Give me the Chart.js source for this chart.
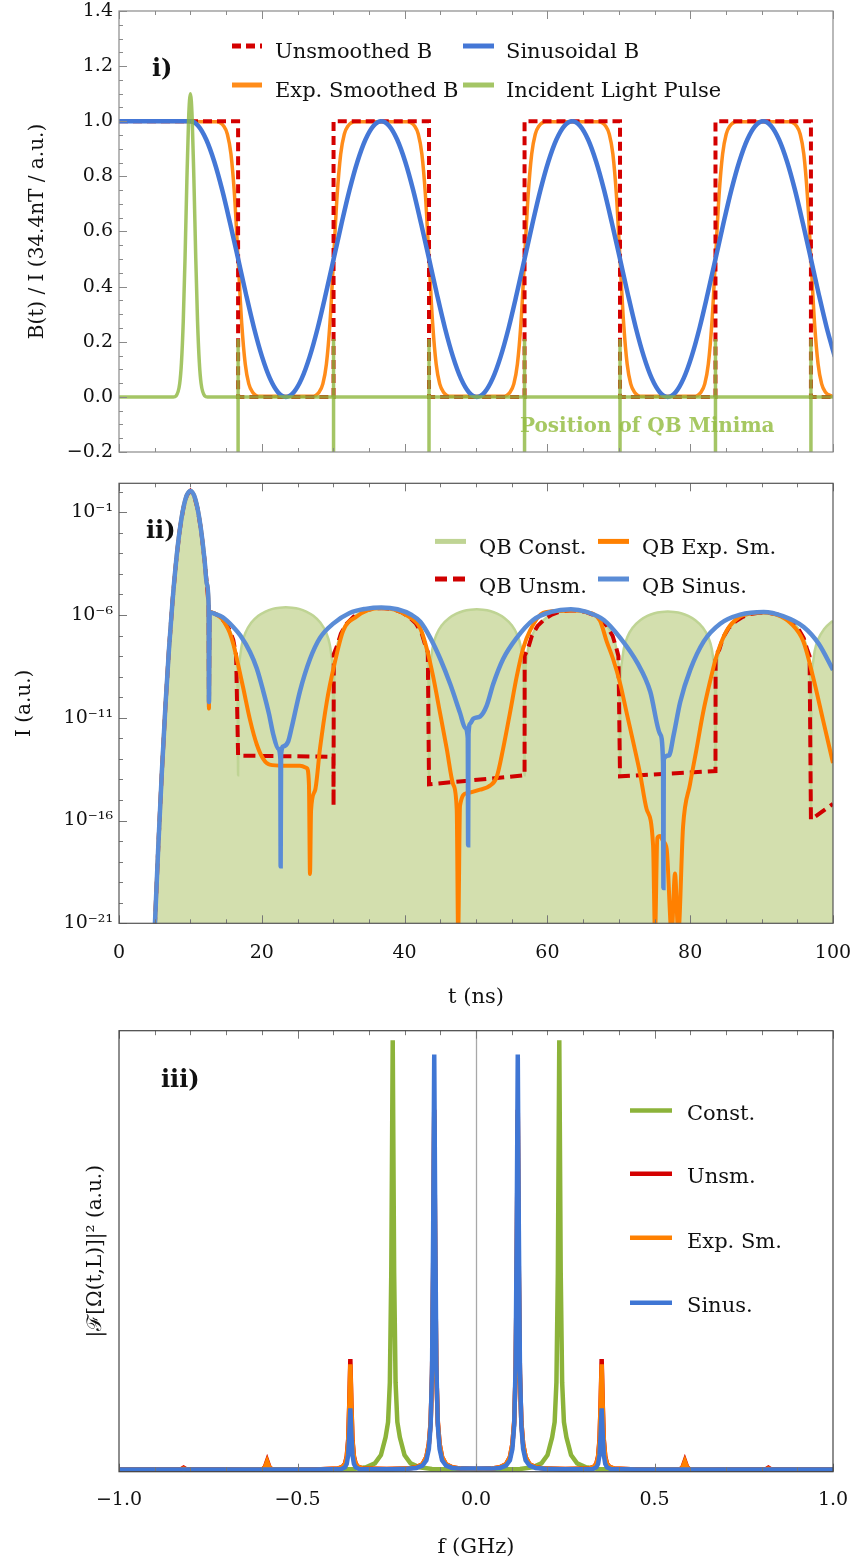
<!DOCTYPE html>
<html><head><meta charset="utf-8">
<script src="https://cdn.jsdelivr.net/npm/chart.js@4.4.1/dist/chart.umd.min.js"></script>
<style>
html,body{margin:0;padding:0;background:#fff;}
body{width:854px;height:1562px;position:relative;overflow:hidden;}
canvas{position:absolute;left:0;}
</style></head><body>
<canvas id="c1" width="854" height="470" style="top:0px"></canvas>
<canvas id="c2" width="854" height="550" style="top:470px"></canvas>
<canvas id="c3" width="854" height="542" style="top:1020px"></canvas>
<script>
// ---------------- Panel i : B(t) ----------------
const sinT = [0,10,11.11,12.23,13.34,14.46,15.57,16.69,17.80,18.91,20.03,21.14,22.26,23.37,24.48,25.60,26.71,27.83,28.94,30.06,31.17,32.28,33.40,34.51,35.63,36.74,37.85,38.97,40.08,41.20,42.31,43.43,44.54,45.65,46.77,47.88,49.00,50.11,51.22,52.34,53.45,54.57,55.68,56.80,57.91,59.02,60.14,61.25,62.37,63.48,64.59,65.71,66.82,67.94,69.05,70.17,71.28,72.39,73.51,74.62,75.74,76.85,77.96,79.08,80.19,81.31,82.42,83.54,84.65,85.76,86.88,87.99,89.11,90.22,91.33,92.45,93.56,94.68,95.79,96.91,98.02,99.13,100.25];
const sinB = [1,
 1,.983,.933,.854,.75,.629,.5,.371,.25,.146,.067,.017,0,.017,.067,.146,.25,.371,.5,.629,.75,.854,.933,.983,
 1,.983,.933,.854,.75,.629,.5,.371,.25,.146,.067,.017,0,.017,.067,.146,.25,.371,.5,.629,.75,.854,.933,.983,
 1,.983,.933,.854,.75,.629,.5,.371,.25,.146,.067,.017,0,.017,.067,.146,.25,.371,.5,.629,.75,.854,.933,.983,
 1,.983,.933,.854,.75,.629,.5,.371,.25,.146];
const unsT = [0,16.68,16.68,30.05,30.05,43.42,43.42,56.8,56.8,70.17,70.17,83.54,83.54,96.91,96.91,100];
const unsB = [1,1,0,0,1,1,0,0,1,1,0,0,1,1,0,0];
const expT = [0,
 13.68,14.68,15.18,15.68,16.18,16.68,17.18,17.68,18.18,18.68,19.68,
 27.05,28.05,28.55,29.05,29.55,30.05,30.55,31.05,31.55,32.05,33.05,
 40.42,41.42,41.92,42.42,42.92,43.42,43.92,44.42,44.92,45.42,46.42,
 53.8,54.8,55.3,55.8,56.3,56.8,57.3,57.8,58.3,58.8,59.8,
 67.17,68.17,68.67,69.17,69.67,70.17,70.67,71.17,71.67,72.17,73.17,
 80.54,81.54,82.04,82.54,83.04,83.54,84.04,84.54,85.04,85.54,86.54,
 93.91,94.91,95.41,95.91,96.41,96.91,97.41,97.91,98.41,98.91,99.91,100];
const expB = [1,
 0.998,0.982,0.953,0.881,0.731,0.5,0.269,0.119,0.047,0.018,0.002,
 0.002,0.018,0.047,0.119,0.269,0.5,0.731,0.881,0.953,0.982,0.998,
 0.998,0.982,0.953,0.881,0.731,0.5,0.269,0.119,0.047,0.018,0.002,
 0.002,0.018,0.047,0.119,0.269,0.5,0.731,0.881,0.953,0.982,0.998,
 0.998,0.982,0.953,0.881,0.731,0.5,0.269,0.119,0.047,0.018,0.002,
 0.002,0.018,0.047,0.119,0.269,0.5,0.731,0.881,0.953,0.982,0.998,
 0.998,0.982,0.953,0.881,0.731,0.5,0.269,0.119,0.047,0.018,0.002,0.001];
const pulseT = [0,7.6,8.0,8.5,8.75,9.0,9.25,9.5,9.75,10,10.25,10.5,10.75,11.0,11.25,11.5,12.0,12.4,100];
const pulseB = [0,0,0.004,0.048,0.125,0.274,0.504,0.778,1.009,1.1,1.009,0.778,0.504,0.274,0.125,0.048,0.004,0,0];
const minimaT = [16.68,30.05,43.42,56.8,70.17,83.54,96.91];
const minimaSpan = [0.21,-0.3];

const tMajor = [0,20,40,60,80,100];
const tMinor = [5,10,15,25,30,35,45,50,55,65,70,75,85,90,95];
const bMajor = [-0.2,0,0.2,0.4,0.6,0.8,1.0,1.2,1.4];
const bMinor = [-0.15,-0.1,-0.05,0.05,0.1,0.15,0.25,0.3,0.35,0.45,0.5,0.55,0.65,0.7,0.75,0.85,0.9,0.95,1.05,1.1,1.15,1.25,1.3,1.35];

// ---------------- Panel ii : I(t), log10 values ----------------
const qbPulseT = [5.0,5.5,6,6.5,7,7.5,8,8.5,9,9.5,10,10.5,11,11.5,12,12.3,12.55];
const qbPulseLog = [-21.3,-17.27,-13.64,-10.43,-7.66,-5.3,-3.38,-1.88,-0.815,-0.17,0.04,-0.17,-0.815,-1.88,-3.38,-4.48,-5.52];

const constT = [12.6,12.68,13.5,14,14.5,15,15.5,16,16.3,16.5,16.6,16.68,
 16.76,16.91,17.21,17.71,18.51,19.51,20.51,21.51,22.51,23.37,24.22,25.22,26.22,27.22,28.22,29.02,29.52,29.82,29.97,30.05,
 30.13,30.28,30.58,31.08,31.88,32.88,33.88,34.88,35.88,36.74,37.6,38.6,39.6,40.6,41.6,42.4,42.9,43.2,43.35,43.42,
 43.5,43.65,43.95,44.45,45.25,46.25,47.25,48.25,49.25,50.11,50.97,51.97,52.97,53.97,54.97,55.77,56.27,56.57,56.72,56.8,
 56.88,57.03,57.33,57.83,58.63,59.63,60.63,61.63,62.63,63.48,64.33,65.33,66.33,67.33,68.33,69.13,69.63,69.93,70.08,70.17,
 70.25,70.4,70.7,71.2,72,73,74,75,76,76.86,77.72,78.72,79.72,80.72,81.72,82.52,83.02,83.32,83.47,83.54,
 83.62,83.77,84.07,84.57,85.37,86.37,87.37,88.37,89.37,90.23,91.09,92.09,93.09,94.09,95.09,95.89,96.39,96.69,96.84,96.91,
 96.99,97.14,97.44,97.94,98.74,99.74,100];
const constLog = [-10.3,-5.85,-5.94,-6.06,-6.22,-6.43,-6.73,-7.21,-7.72,-8.4,-9.16,-13.8,
 -9.07,-8.15,-7.43,-6.86,-6.38,-6.04,-5.83,-5.70,-5.64,-5.62,-5.64,-5.70,-5.83,-6.04,-6.38,-6.86,-7.43,-8.15,-9.07,-14.5,
 -9.11,-8.19,-7.47,-6.90,-6.42,-6.08,-5.87,-5.74,-5.68,-5.66,-5.68,-5.74,-5.87,-6.08,-6.42,-6.90,-7.47,-8.19,-9.11,-14.2,
 -9.17,-8.25,-7.53,-6.96,-6.48,-6.14,-5.93,-5.80,-5.74,-5.72,-5.74,-5.80,-5.93,-6.14,-6.48,-6.96,-7.53,-8.25,-9.17,-13.8,
 -9.22,-8.30,-7.58,-7.01,-6.53,-6.19,-5.98,-5.85,-5.79,-5.77,-5.79,-5.85,-5.98,-6.19,-6.53,-7.01,-7.58,-8.30,-9.22,-13.85,
 -9.28,-8.36,-7.64,-7.07,-6.59,-6.25,-6.04,-5.91,-5.85,-5.83,-5.85,-5.91,-6.04,-6.25,-6.59,-7.07,-7.64,-8.36,-9.28,-13.6,
 -9.33,-8.41,-7.69,-7.12,-6.64,-6.30,-6.09,-5.96,-5.90,-5.88,-5.90,-5.96,-6.09,-6.30,-6.64,-7.12,-7.69,-8.41,-9.33,-15.5,
 -9.38,-8.46,-7.74,-7.17,-6.69,-6.35,-6.29];

const unsmT = [12.6,12.68,13.5,14,14.5,15,15.5,16,16.4,16.68,30.03,30.05,30.08,
 30.58,31.08,31.88,32.88,33.88,34.88,35.88,36.74,37.6,38.6,39.6,40.6,41.6,42.4,42.9,43.25,43.42,56.8,56.82,
 57.33,57.83,58.63,59.63,60.63,61.63,62.63,63.48,64.33,65.33,66.33,67.33,68.33,69.13,69.63,69.95,70.17,83.54,83.56,
 84.07,84.57,85.37,86.37,87.37,88.37,89.37,90.23,91.09,92.09,93.09,94.09,95.09,95.89,96.39,96.72,96.91,100];
const unsmLog = [-10.55,-5.85,-5.94,-6.06,-6.22,-6.43,-6.73,-7.21,-7.95,-12.84,-12.9,-15.3,-7.9,
 -7.47,-6.90,-6.42,-6.08,-5.87,-5.74,-5.68,-5.66,-5.68,-5.74,-5.87,-6.08,-6.42,-6.90,-7.47,-7.8,-14.24,-13.8,-7.98,
 -7.58,-7.01,-6.53,-6.19,-5.98,-5.85,-5.79,-5.77,-5.79,-5.85,-5.98,-6.19,-6.53,-7.01,-7.58,-8.0,-13.85,-13.59,-7.98,
 -7.69,-7.12,-6.64,-6.30,-6.09,-5.96,-5.90,-5.88,-5.90,-5.96,-6.09,-6.30,-6.64,-7.12,-7.69,-8.0,-15.96,-15.19];

const expSmT = [12.6,12.68,13.5,14,14.5,15,15.5,16,16.68,
 17.4,18.35,19.3,20.2,21.1,23.0,25.35,26.3,26.6,26.75,
 26.9,27.45,28.15,29.1,30.05,31.4,33.3,34.88,36.74,38.6,
 40.6,42.2,43.1,44.0,44.96,45.9,46.8,47.3,47.5,47.76,
 48.7,50.56,51.96,52.9,53.8,54.76,55.7,56.6,57.56,59.4,
 61.63,63.48,65.33,67.33,68.3,69.2,70.2,71.1,72.0,72.97,
 73.9,74.8,75.07,75.4,75.77,76.2,76.7,77.4,77.87,78.33,
 79.0,79.97,80.9,81.8,82.8,83.7,85.1,86.97,88.37,90.23,
 92.09,94.09,95.84,97.2,98.6,100];
const expSmLog = [-10.55,-5.85,-5.94,-6.06,-6.22,-6.5,-6.85,-7.4,-8.41,
 -9.55,-11.1,-12.3,-13.0,-13.28,-13.33,-13.33,-13.45,-14.2,-18.6,
 -15.5,-14.55,-12.5,-10.23,-8.58,-6.76,-6.07,-5.76,-5.66,-5.74,
 -6.08,-6.65,-7.63,-9.0,-10.76,-12.5,-14.24,-15.45,-21.5,-15.28,
 -14.67,-14.5,-14.3,-13.88,-12.5,-10.76,-9.0,-7.63,-6.76,-5.9,
 -5.8,-5.77,-5.85,-6.25,-7.28,-8.14,-9.35,-10.76,-12.15,-13.7,
 -15.45,-17.2,-21.5,-16.85,-16.75,-17.0,-17.37,-21.5,-18.58,-21.5,
 -16.3,-14.24,-12.5,-10.76,-9.2,-7.98,-6.76,-6.07,-5.93,-5.88,
 -5.98,-6.4,-7.28,-9.0,-11.1,-13.2];

const sinusT = [12.6,12.7,13.5,14.5,16.0,17.0,18.35,19.3,20.2,21.0,
 21.6,22.3,22.6,22.64,22.7,23.0,23.7,24.2,25.35,26.75,
 28.15,30.0,32.3,34.5,36.74,39.0,41.0,42.2,43.6,45.0,
 46.4,47.76,48.5,48.85,48.9,48.95,49.2,49.6,50.6,51.5,
 52.4,53.8,55.7,58.0,60.5,63.3,65.5,67.9,70.2,72.6,
 74.4,75.8,76.2,76.25,76.3,77.0,77.7,78.6,80.0,81.9,
 84.2,87.0,90.3,93.0,95.9,98.0,100];
const sinusLog = [-10.23,-5.88,-5.95,-6.1,-6.58,-7.0,-7.8,-8.6,-9.7,-10.8,
 -11.8,-12.5,-13.0,-18.23,-12.8,-12.4,-12.15,-11.45,-9.7,-8.14,
 -7.11,-6.42,-5.9,-5.7,-5.63,-5.72,-6.0,-6.33,-7.11,-8.14,
 -9.37,-10.76,-11.5,-12.0,-17.2,-11.8,-11.28,-11.05,-10.93,-10.41,
 -9.37,-8.14,-7.11,-6.24,-5.85,-5.72,-5.85,-6.24,-7.11,-8.33,
 -9.72,-11.8,-13.2,-19.28,-13.0,-12.84,-11.8,-10.23,-8.67,-7.28,
 -6.42,-5.98,-5.85,-6.05,-6.58,-7.4,-8.67];

const logLabelExp = [-21,-16,-11,-6,-1];
const logMinorExp = [-20,-19,-18,-17,-15,-14,-13,-12,-10,-9,-8,-7,-5,-4,-3,-2,0];

// ---------------- Panel iii : spectrum ----------------
const constF = [-1,-0.3433,-0.3083,-0.2833,-0.2663,-0.2533,-0.2463,-0.2413,-0.2373,-0.2333,-0.2293,-0.2253,-0.2203,-0.2133,-0.2003,-0.1833,-0.1583,-0.1233,
 0,0.1233,0.1583,0.1833,0.2003,0.2133,0.2203,0.2253,0.2293,0.2333,0.2373,0.2413,0.2463,0.2533,0.2663,0.2833,0.3083,0.3433,1];
const constS = [0.002,0.003,0.007,0.016,0.035,0.075,0.11,0.2,0.45,0.978,0.45,0.2,0.11,0.075,0.035,0.016,0.007,0.003,
 0.002,0.003,0.007,0.016,0.035,0.075,0.11,0.2,0.45,0.978,0.45,0.2,0.11,0.075,0.035,0.016,0.007,0.003,0.002];

const sinusF = [-1,-0.45,-0.377,-0.367,-0.362,-0.358,-0.355,-0.352,-0.349,-0.346,-0.342,-0.337,-0.327,-0.235,-0.192,-0.167,-0.150,-0.139,-0.132,-0.127,-0.123,-0.120,-0.117,-0.114,-0.111,-0.107,-0.102,-0.095,-0.084,-0.067,-0.042,
 0,0.042,0.067,0.084,0.095,0.102,0.107,0.111,0.114,0.117,0.120,0.123,0.127,0.132,0.139,0.150,0.167,0.192,0.235,0.327,0.337,0.342,0.346,0.349,0.352,0.355,0.358,0.362,0.367,0.377,0.45,1];
const sinusS = [0.002,0.002,0.003,0.007,0.015,0.035,0.08,0.141,0.08,0.035,0.015,0.007,0.003,0.0025,0.0035,0.0055,0.011,0.023,0.049,0.103,0.24,0.545,0.946,0.545,0.24,0.103,0.049,0.023,0.011,0.0055,0.004,
 0.004,0.004,0.0055,0.011,0.023,0.049,0.103,0.24,0.545,0.946,0.545,0.24,0.103,0.049,0.023,0.011,0.0055,0.0035,0.0025,0.003,0.007,0.015,0.035,0.08,0.141,0.08,0.035,0.015,0.007,0.003,0.002,0.002];

const harmF = [-1,-0.827,-0.819,-0.811,-0.7,-0.597,-0.591,-0.585,-0.579,-0.573,-0.45,-0.387,-0.374,-0.367,-0.362,-0.358,-0.355,-0.352,-0.349,-0.346,-0.342,-0.337,-0.330,-0.317,-0.25,-0.192,-0.167,-0.150,-0.139,-0.132,-0.127,-0.123,-0.120,-0.117,-0.114,-0.111,-0.107,-0.102,-0.095,-0.084,-0.067,-0.042,
 0,0.042,0.067,0.084,0.095,0.102,0.107,0.111,0.114,0.117,0.120,0.123,0.127,0.132,0.139,0.150,0.167,0.192,0.25,0.317,0.330,0.337,0.342,0.346,0.349,0.352,0.355,0.358,0.362,0.367,0.374,0.387,0.45,0.573,0.579,0.585,0.591,0.597,0.7,0.811,0.819,0.827,1];
const unsmS = [0.002,0.002,0.006,0.002,0.002,0.003,0.008,0.022,0.008,0.003,0.002,0.004,0.008,0.015,0.032,0.07,0.15,0.253,0.15,0.07,0.032,0.015,0.008,0.004,0.003,0.004,0.007,0.014,0.03,0.06,0.11,0.22,0.45,0.82,0.45,0.22,0.11,0.06,0.03,0.014,0.007,0.004,
 0.003,0.004,0.007,0.014,0.03,0.06,0.11,0.22,0.45,0.82,0.45,0.22,0.11,0.06,0.03,0.014,0.007,0.004,0.003,0.004,0.008,0.015,0.032,0.07,0.15,0.253,0.15,0.07,0.032,0.015,0.008,0.004,0.002,0.003,0.008,0.022,0.008,0.003,0.002,0.002,0.006,0.002,0.002];
const expSmS = [0.002,0.002,0.004,0.002,0.002,0.003,0.007,0.02,0.007,0.003,0.002,0.004,0.008,0.014,0.03,0.067,0.145,0.241,0.145,0.067,0.03,0.014,0.008,0.004,0.003,0.004,0.007,0.014,0.03,0.06,0.11,0.22,0.44,0.81,0.44,0.22,0.11,0.06,0.03,0.014,0.007,0.004,
 0.003,0.004,0.007,0.014,0.03,0.06,0.11,0.22,0.44,0.81,0.44,0.22,0.11,0.06,0.03,0.014,0.007,0.004,0.003,0.004,0.008,0.014,0.03,0.067,0.145,0.241,0.145,0.067,0.03,0.014,0.008,0.004,0.002,0.003,0.007,0.02,0.007,0.003,0.002,0.002,0.004,0.002,0.002];

const fMajor = [-1,-0.5,0,0.5,1];
const fMinor = [-0.9,-0.8,-0.7,-0.6,-0.4,-0.3,-0.2,-0.1,0.1,0.2,0.3,0.4,0.6,0.7,0.8,0.9];

// ---------------- helpers ----------------
const SERIF = "'DejaVu Serif', serif";
Chart.defaults.font.family = SERIF;
Chart.defaults.color = '#111';
const pts = (xs, ys) => xs.map((x, i) => ({x, y: ys[i]}));
const ptsLog = (xs, es) => xs.map((x, i) => ({x, y: Math.pow(10, es[i])}));
const zeroPad = s => { s.paddingLeft = 0; s.paddingRight = 0; s.paddingTop = 0; s.paddingBottom = 0; };
const fmt1 = v => Math.abs(v) < 1e-9 ? '0.0' : (v < 0 ? '\u2212' : '') + Math.abs(v).toFixed(1);
const SUP = {'-':'\u207B','0':'\u2070','1':'\u00B9','2':'\u00B2','3':'\u00B3','4':'\u2074','5':'\u2075','6':'\u2076','7':'\u2077','8':'\u2078','9':'\u2079'};
const supText = n => String(n).split('').map(c => SUP[c]).join('');

const decor = {
  id: 'decor',
  beforeDatasetsDraw(chart, args, o) {
    if (!o.zeroLine) return;
    const {ctx, chartArea: a} = chart;
    const x = Math.round(chart.scales.x.getPixelForValue(0)) + 0.5;
    ctx.save(); ctx.strokeStyle = o.zeroLine; ctx.lineWidth = 1.3;
    ctx.beginPath(); ctx.moveTo(x, a.top); ctx.lineTo(x, a.bottom); ctx.stroke(); ctx.restore();
  },
  afterDatasetsDraw(chart, args, o) {
    const {ctx, chartArea: a} = chart;
    const xs = chart.scales.x, ys = chart.scales.y;
    ctx.save();
    ctx.lineWidth = 1; ctx.strokeStyle = o.tickColor;
    const vx = (v, len) => { const p = Math.round(xs.getPixelForValue(v)) + 0.5; ctx.beginPath();
      ctx.moveTo(p, a.bottom); ctx.lineTo(p, a.bottom - len); ctx.moveTo(p, a.top); ctx.lineTo(p, a.top + len); ctx.stroke(); };
    const vy = (v, len) => { const p = Math.round(ys.getPixelForValue(v)) + 0.5; ctx.beginPath();
      ctx.moveTo(a.left, p); ctx.lineTo(a.left + len, p); ctx.stroke(); };
    (o.xMajor || []).forEach(v => vx(v, o.majorLen));
    (o.xMinor || []).forEach(v => vx(v, o.minorLen));
    (o.yMajor || []).forEach(v => vy(v, o.majorLen));
    (o.yMinor || []).forEach(v => vy(v, o.minorLen));
    ctx.strokeStyle = o.frameColor; ctx.lineWidth = 1.2;
    ctx.strokeRect(a.left, a.top, a.right - a.left, a.bottom - a.top);
    ctx.restore();
  },
  afterDraw(chart, args, o) {
    const ctx = chart.ctx;
    ctx.save();
    (o.texts || []).forEach(t => {
      ctx.font = t.font; ctx.fillStyle = t.color; ctx.textAlign = 'left'; ctx.textBaseline = 'alphabetic';
      ctx.fillText(t.text, t.x, t.y);
    });
    (o.legend || []).forEach(it => {
      const ds = chart.data.datasets.find(d => d.label === it.label);
      ctx.strokeStyle = ds.legendColor || ds.borderColor; ctx.lineWidth = it.w; ctx.lineCap = 'butt';
      ctx.setLineDash(ds.borderDash || []);
      ctx.beginPath(); ctx.moveTo(it.x1, it.y); ctx.lineTo(it.x2, it.y); ctx.stroke();
      ctx.setLineDash([]);
      ctx.font = o.legendFont; ctx.fillStyle = '#111'; ctx.textAlign = 'left'; ctx.textBaseline = 'alphabetic';
      ctx.fillText(it.label, it.tx, it.ty);
    });
    ctx.restore();
  }
};

const baseOpts = (padTop) => ({
  responsive: false, animation: false, devicePixelRatio: 1,
  layout: {padding: {left: 0, top: padTop, right: 21, bottom: 0}},
  elements: {point: {radius: 0}},
  plugins: {legend: {display: false}, tooltip: {enabled: false}}
});

// ---------------- Chart i ----------------
const minimaPts = [];
minimaT.forEach(t => { minimaPts.push({x: t, y: minimaSpan[0]}, {x: t, y: minimaSpan[1]}, {x: t, y: null}); });

const o1 = baseOpts(11);
o1.plugins.decor = {
  frameColor: '#8a8a8a', tickColor: '#8a8a8a', majorLen: 8, minorLen: 4,
  xMajor: tMajor, xMinor: tMinor, yMajor: bMajor, yMinor: bMinor,
  legendFont: '21px ' + SERIF,
  texts: [
    {text: 'i)', x: 152, y: 76, font: 'bold 24px ' + SERIF, color: '#111'},
    {text: 'Position of QB Minima', x: 520, y: 432, font: 'bold 20px ' + SERIF, color: 'rgba(150,190,70,0.85)'}
  ],
  legend: [
    {label: 'Unsmoothed B', x1: 232, x2: 262, y: 46, tx: 275, ty: 58, w: 5},
    {label: 'Sinusoidal B', x1: 463, x2: 494, y: 46, tx: 506, ty: 58, w: 5},
    {label: 'Exp. Smoothed B', x1: 232, x2: 262, y: 85, tx: 275, ty: 97, w: 5},
    {label: 'Incident Light Pulse', x1: 463, x2: 494, y: 85, tx: 506, ty: 97, w: 5}
  ]
};
o1.scales = {
  x: {type: 'linear', min: 0, max: 100, grid: {display: false, drawTicks: false}, border: {display: false},
      ticks: {display: false}, afterFit: s => { s.height = 18; zeroPad(s); }},
  y: {type: 'linear', min: -0.2, max: 1.4, grid: {display: false, drawTicks: false}, border: {display: false},
      ticks: {stepSize: 0.2, padding: 6, font: {size: 19}, color: '#111', callback: fmt1},
      title: {display: true, text: 'B(t) / I (34.4nT / a.u.)', font: {size: 20}, color: '#111', padding: {top: 25.5, bottom: 0}},
      afterFit: s => { s.width = 119; zeroPad(s); }}
};
new Chart(document.getElementById('c1'), {
  type: 'line',
  data: {datasets: [
    {label: 'Position of QB Minima', data: minimaPts, borderColor: 'rgba(141,182,62,0.8)', borderWidth: 3.5, tension: 0, spanGaps: false, order: 0},
    {label: 'Incident Light Pulse', data: pts(pulseT, pulseB), borderColor: 'rgba(141,182,62,0.8)', borderWidth: 3.5, cubicInterpolationMode: 'monotone', order: 1},
    {label: 'Sinusoidal B', data: pts(sinT, sinB), borderColor: '#4477d6', borderWidth: 4.5, cubicInterpolationMode: 'monotone', order: 2},
    {label: 'Unsmoothed B', data: pts(unsT, unsB), borderColor: '#d40000', borderWidth: 4, borderDash: [9, 5], tension: 0, order: 3},
    {label: 'Exp. Smoothed B', data: pts(expT, expB), borderColor: '#ff8c1a', borderWidth: 3.5, cubicInterpolationMode: 'monotone', order: 4}
  ]},
  options: o1, plugins: [decor]
});

// ---------------- Chart ii ----------------
const o2 = baseOpts(13.3);
o2.plugins.decor = {
  frameColor: '#555', tickColor: '#777', majorLen: 8, minorLen: 4,
  xMajor: tMajor, xMinor: tMinor,
  yMajor: logLabelExp.map(e => Math.pow(10, e)), yMinor: logMinorExp.map(e => Math.pow(10, e)),
  legendFont: '21px ' + SERIF,
  texts: [{text: 'ii)', x: 146, y: 68, font: 'bold 24px ' + SERIF, color: '#111'}],
  legend: [
    {label: 'QB Const.', x1: 435, x2: 466, y: 71.4, tx: 479, ty: 84, w: 5},
    {label: 'QB Exp. Sm.', x1: 598, x2: 629, y: 71.4, tx: 642, ty: 84, w: 5},
    {label: 'QB Unsm.', x1: 435, x2: 466, y: 109, tx: 479, ty: 123, w: 5},
    {label: 'QB Sinus.', x1: 598, x2: 629, y: 109, tx: 642, ty: 123, w: 5}
  ]
};
o2.scales = {
  x: {type: 'linear', min: 0, max: 100, grid: {display: false, drawTicks: false}, border: {display: false},
      ticks: {stepSize: 20, padding: 18, font: {size: 19}, color: '#111', maxRotation: 0},
      title: {display: true, text: 't (ns)', font: {size: 21}, color: '#111', padding: {top: 0, bottom: 9.4}},
      afterFit: s => { s.height = 96.7; zeroPad(s); }},
  y: {type: 'logarithmic', min: 1e-21, max: Math.pow(10, 0.41), grid: {display: false, drawTicks: false}, border: {display: false},
      afterBuildTicks: s => { s.ticks = logLabelExp.map(e => ({value: Math.pow(10, e)})); },
      ticks: {padding: 6, font: {size: 19}, color: '#111', autoSkip: false,
              callback: v => '10' + supText(Math.round(Math.log10(v)))},
      title: {display: true, text: 'I (a.u.)', font: {size: 20}, color: '#111', padding: {top: 13, bottom: 0}},
      afterFit: s => { s.width = 119; zeroPad(s); }}
};
new Chart(document.getElementById('c2'), {
  type: 'line',
  data: {datasets: [
    {label: 'QB Sinus.', data: ptsLog(qbPulseT.concat(sinusT), qbPulseLog.concat(sinusLog)), borderColor: '#5a8cd6', borderWidth: 4.5, cubicInterpolationMode: 'monotone', order: 0},
    {label: 'QB Exp. Sm.', data: ptsLog(qbPulseT.concat(expSmT), qbPulseLog.concat(expSmLog)), borderColor: '#ff8000', borderWidth: 4, cubicInterpolationMode: 'monotone', order: 1},
    {label: 'QB Unsm.', data: ptsLog(qbPulseT.concat(unsmT), qbPulseLog.concat(unsmLog)), borderColor: '#d00000', borderWidth: 4, borderDash: [12, 6], tension: 0, order: 2},
    {label: 'QB Const.', data: ptsLog(qbPulseT.concat(constT), qbPulseLog.concat(constLog)), borderColor: '#bfd494', borderWidth: 2.5,
     backgroundColor: '#d3dfae', fill: 'start', cubicInterpolationMode: 'monotone', order: 3}
  ]},
  options: o2, plugins: [decor]
});

// ---------------- Chart iii ----------------
const o3 = baseOpts(10.7);
o3.plugins.decor = {
  frameColor: '#444', tickColor: '#777', majorLen: 8, minorLen: 4.5,
  xMajor: fMajor, xMinor: fMinor, zeroLine: '#a8a8a8',
  legendFont: '21px ' + SERIF,
  texts: [{text: 'iii)', x: 161, y: 67, font: 'bold 24px ' + SERIF, color: '#111'}],
  legend: [
    {label: 'Const.', x1: 630, x2: 672, y: 90.6, tx: 687, ty: 100, w: 4.5},
    {label: 'Unsm.', x1: 630, x2: 672, y: 153.8, tx: 687, ty: 163, w: 4.5},
    {label: 'Exp. Sm.', x1: 630, x2: 672, y: 217.8, tx: 687, ty: 228, w: 4.5},
    {label: 'Sinus.', x1: 630, x2: 672, y: 282.8, tx: 687, ty: 292, w: 4.5}
  ]
};
o3.scales = {
  x: {type: 'linear', min: -1, max: 1, grid: {display: false, drawTicks: false}, border: {display: false},
      ticks: {stepSize: 0.5, padding: 17, font: {size: 19}, color: '#111', callback: fmt1, maxRotation: 0},
      title: {display: true, text: 'f (GHz)', font: {size: 21}, color: '#111', padding: {top: 0, bottom: 1.4}},
      afterFit: s => { s.height = 90.3; zeroPad(s); }},
  y: {type: 'linear', min: -0.003, max: 1.0, grid: {display: false, drawTicks: false}, border: {display: false},
      ticks: {display: false},
      title: {display: true, text: '|\u2131[\u03A9(t,L)]|\u00B2 (a.u.)', font: {size: 20}, color: '#111', padding: {top: 84, bottom: 0}},
      afterFit: s => { s.width = 119; zeroPad(s); }}
};
new Chart(document.getElementById('c3'), {
  type: 'line',
  data: {datasets: [
    {label: 'Sinus.', data: pts(sinusF, sinusS), borderColor: '#3f76d4', borderWidth: 4.5, tension: 0, order: 0},
    {label: 'Exp. Sm.', data: pts(harmF, expSmS), borderColor: '#ff8000', borderWidth: 4.5, tension: 0, order: 1},
    {label: 'Unsm.', data: pts(harmF, unsmS), borderColor: '#d40000', borderWidth: 4.5, tension: 0, order: 2},
    {label: 'Const.', data: pts(constF, constS), borderColor: '#8cb33a', borderWidth: 4.5, tension: 0, order: 3}
  ]},
  options: o3, plugins: [decor]
});
</script></body></html>
